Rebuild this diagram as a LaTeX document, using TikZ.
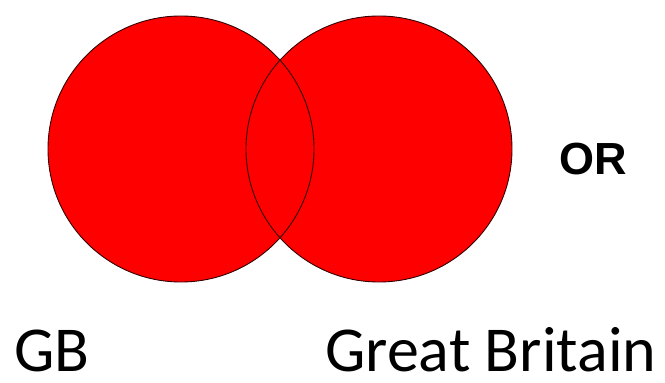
\documentclass[tikz,border=0pt]{standalone}
\usepackage{fontspec}
\newfontfamily\carlitofont{Carlito}
\newfontfamily\arialfont{Liberation Sans}
\begin{document}
\begin{tikzpicture}[x=1pt,y=1pt,
  disc/.style={fill=red,draw=none},
  rim/.style={draw=black!80!red,line width=0.9pt},
  lbl/.style={inner sep=0pt,anchor=base west}]
\useasboundingbox (0,0) rectangle (665,383);
\fill[white] (0,0) rectangle (665,383);
\coordinate (c1) at (181,234);
\coordinate (c2) at (379,234);
\fill[disc] (c1) circle (133);
\fill[disc] (c2) circle (133);
\draw[rim] (c1) circle (133);
\draw[rim] (c2) circle (133);
\node[lbl] (or) at (559,208) {\fontsize{45}{50}\selectfont\arialfont\bfseries OR};
\node[lbl] (gb) at (14,11) {\fontsize{64}{70}\selectfont\carlitofont GB};
\node[lbl] (gbr) at (325,11) {\fontsize{64}{70}\selectfont\carlitofont Great Britain};
\end{tikzpicture}
\end{document}
